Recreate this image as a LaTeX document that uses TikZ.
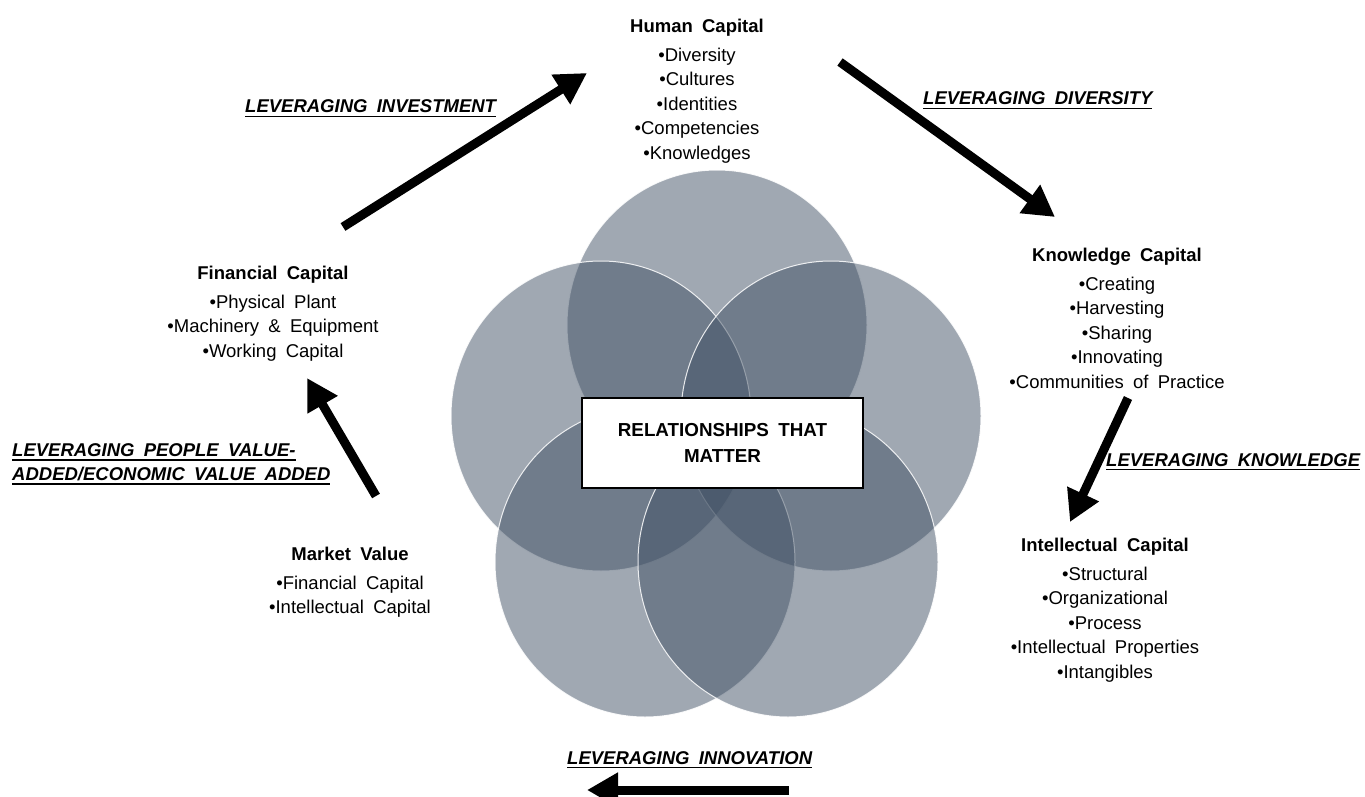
\documentclass[tikz,border=0pt]{standalone}
\usepackage{fontspec}
\setmainfont{Liberation Sans}[WordSpace=1.8]
\usetikzlibrary{arrows.meta}
\definecolor{petal}{RGB}{65,81,101}
\newcommand\ulx[1]{\vtop{\hbox{#1}\kern2.6pt\hrule height 1.6pt}}
\tikzset{
  petalshape/.style={fill=petal, fill opacity=0.5, draw=white, draw opacity=0.85, line width=1pt},
  block/.style={align=center, inner sep=0pt, anchor=north, font=\fontsize{18.5}{24.5}\selectfont},
  lab/.style={inner sep=0pt, anchor=base west, font=\fontsize{18.5}{24}\selectfont\bfseries\itshape},
  bigarrow/.style={line width=9pt, -{Triangle[length=31pt,width=33pt]}},
  centerbox/.style={draw=black, line width=1.3pt, fill=white, minimum width=281pt, minimum height=90pt, align=center, inner sep=0pt, font=\fontsize{18.8}{26}\selectfont\bfseries}
}
\begin{document}
\begin{tikzpicture}[x=1pt,y=-1pt]
\useasboundingbox (0,0) rectangle (1365,797);
% petals
\path[petalshape] (717,325) ellipse [x radius=150, y radius=155];
\path[petalshape] (601,416) ellipse [x radius=150, y radius=155];
\path[petalshape] (831,416) ellipse [x radius=150, y radius=155];
\path[petalshape] (645,562) ellipse [x radius=150, y radius=155];
\path[petalshape] (788,562) ellipse [x radius=150, y radius=155];
\node[centerbox] (rel) at (722.5,443) {RELATIONSHIPS THAT\\MATTER};
% blocks
\node[block] (human) at (697,18.5) {\textbf{Human Capital}\\[4.5pt]•Diversity\\•Cultures\\•Identities\\•Competencies\\•Knowledges};
\node[block] (knowledge) at (1117,247.5) {\textbf{Knowledge Capital}\\[4.5pt]•Creating\\•Harvesting\\•Sharing\\•Innovating\\•Communities of Practice};
\node[block] (intellectual) at (1105,537.5) {\textbf{Intellectual Capital}\\[4.5pt]•Structural\\•Organizational\\•Process\\•Intellectual Properties\\•Intangibles};
\node[block] (market) at (350,546.5) {\textbf{Market Value}\\[4.5pt]•Financial Capital\\•Intellectual Capital};
\node[block] (financial) at (273,265.5) {\textbf{Financial Capital}\\[4.5pt]•Physical Plant\\•Machinery \& Equipment\\•Working Capital};
% labels
\node[lab] (linv) at (245,113) {\ulx{LEVERAGING INVESTMENT}};
\node[lab] (ldiv) at (923,105) {\ulx{LEVERAGING DIVERSITY}};
\node[lab] (lknow) at (1106,466) {\ulx{LEVERAGING KNOWLEDGE}};
\node[lab] (linno) at (567,764) {\ulx{LEVERAGING INNOVATION}};
\node[lab, anchor=north west, align=left] (lpeople) at (12,443) {\ulx{LEVERAGING PEOPLE VALUE-}\\\ulx{ADDED/ECONOMIC VALUE ADDED}};
% arrow end points
\coordinate (a1s) at (343,227); \coordinate (a1e) at (587,73);
\coordinate (a2s) at (840,62);  \coordinate (a2e) at (1055,217);
\coordinate (a3s) at (1128,398); \coordinate (a3e) at (1070,522);
\coordinate (a4s) at (789,790); \coordinate (a4e) at (587,790);
\coordinate (a5s) at (376,496); \coordinate (a5e) at (307,378);
\draw[bigarrow] (a1s) -- (a1e);
\draw[bigarrow] (a2s) -- (a2e);
\draw[bigarrow] (a3s) -- (a3e);
\draw[bigarrow] (a4s) -- (a4e);
\draw[bigarrow] (a5s) -- (a5e);
\end{tikzpicture}
\end{document}
